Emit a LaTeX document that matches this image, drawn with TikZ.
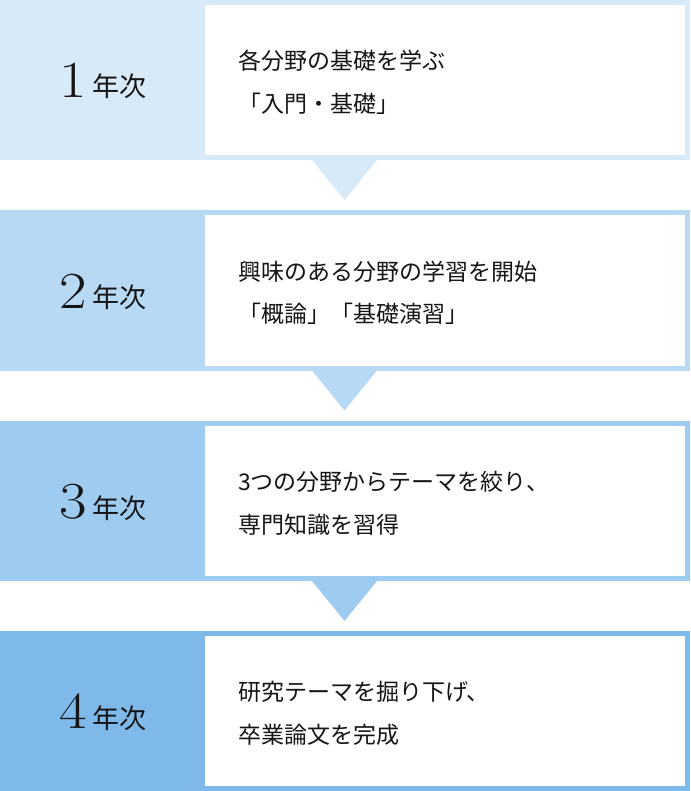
\documentclass[tikz,border=0pt]{standalone}
\usepackage{fontspec}
\newfontfamily\jp{Noto Sans CJK JP}
\definecolor{bandA}{HTML}{D8E9F7}
\definecolor{bandB}{HTML}{B8D9F3}
\definecolor{bandC}{HTML}{9ECBF0}
\definecolor{bandD}{HTML}{7EB9EA}
\definecolor{txt}{HTML}{151515}
\tikzset{
  numtxt/.style={anchor=base east, inner sep=0pt, text=txt, font=\fontsize{52}{52}\selectfont},
  yeartxt/.style={anchor=base west, inner sep=0pt, text=txt, font=\jp\fontsize{27}{27}\selectfont},
  bodytxt/.style={anchor=base west, inner sep=0pt, text=txt, font=\jp\fontsize{23}{23}\selectfont},
  whitebox/.style={fill=white, draw=none}
}
\begin{document}
\begin{tikzpicture}[x=1pt,y=-1pt]
\useasboundingbox (0,0) rectangle (690,791);
% bands
\fill[bandA] (0,0) rectangle (690,160);
\fill[bandB] (0,210.5) rectangle (690,370.5);
\fill[bandC] (0,421) rectangle (690,581);
\fill[bandD] (0,631) rectangle (690,791);
% white boxes
\fill[whitebox] (205,5) rectangle (685,155);
\fill[whitebox] (205,215.5) rectangle (685,365.5);
\fill[whitebox] (205,426) rectangle (685,576);
\fill[whitebox] (205,636) rectangle (685,786);
% triangles
\fill[bandA] (312,160) -- (377,160) -- (344.5,200) -- cycle;
\fill[bandB] (312,370.5) -- (377,370.5) -- (344.5,410.5) -- cycle;
\fill[bandC] (312,581) -- (377,581) -- (344.5,621) -- cycle;
% year labels
\foreach \n/\t in {1/0, 2/210.5, 3/421, 4/631}{
  \node[numtxt] (num\n) at (87,\t+97.5) {\scalebox{1.15}[1]{\n}};
  \node[yeartxt] (yr\n) at (92,\t+97) {年次};
}
% body text
\node[bodytxt] (a1) at (238,69.5) {各分野の基礎を学ぶ};
\node[bodytxt] (a2) at (238,112.5) {「入門・基礎」};
\node[bodytxt] (b1) at (238,280) {興味のある分野の学習を開始};
\node[bodytxt] (b2) at (238,322) {「概論」「基礎演習」};
\node[bodytxt] (c1) at (238,490.5) {3つの分野からテーマを絞り、};
\node[bodytxt] (c2) at (238,533) {専門知識を習得};
\node[bodytxt] (d1) at (238,700.5) {研究テーマを掘り下げ、};
\node[bodytxt] (d2) at (238,743) {卒業論文を完成};
\end{tikzpicture}
\end{document}
